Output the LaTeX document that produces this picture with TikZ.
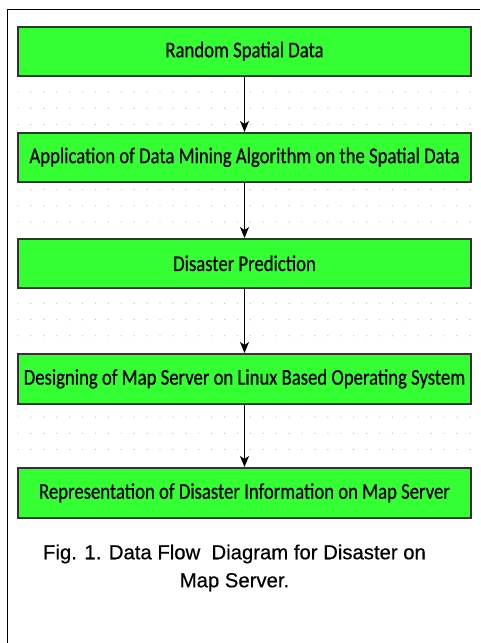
\documentclass[tikz,border=0pt]{standalone}
\usepackage{fontspec}
\setmainfont{Liberation Sans}
\newfontfamily\capfont{Liberation Sans}[FakeBold=0.5]
\newfontfamily\boxfont{Carlito}[FakeBold=0.7]
\usetikzlibrary{arrows.meta}
\definecolor{boxgreen}{HTML}{33FF33}
\definecolor{boxedge}{HTML}{333333}
\definecolor{dotgray}{HTML}{C8C8C8}
\tikzset{
  flowbox/.style={draw=boxedge, line width=1.5pt, fill=boxgreen, minimum width=453pt, minimum height=49pt, inner sep=0pt, anchor=north,
    font=\boxfont\fontsize{18.7pt}{20pt}\selectfont},
  flowarrow/.style={draw=black, line width=1.1pt, -{Stealth[length=11pt,width=9pt,inset=3pt]}},
  captext/.style={font=\capfont\fontsize{20.3pt}{28pt}\selectfont, align=center}
}
\newcommand{\vstretch}[1]{\scalebox{1}[1.2]{#1}}
\begin{document}
\begin{tikzpicture}[x=1pt,y=-1pt]
\useasboundingbox (0,0) rectangle (480,643);
\fill[white] (0,0) rectangle (480,643);
% frame
\draw[line width=1.5pt, black] (7.3,643) -- (7.3,9.6) -- (480,9.6);
% dot grid
\foreach \k in {0,1,2,6,7,8,13,14,15,20,21,22}{
  \foreach \j in {0,...,35}{
    \fill[dotgray] (18+12.91*\j, 92+16.25*\k) circle (0.7pt);
  }
}
% boxes
\node[flowbox] (b1) at (244.5,26) {\vstretch{Random Spatial Data}};
\node[flowbox] (b2) at (244.5,132) {\vstretch{Application of Data Mining Algorithm on the Spatial Data}};
\node[flowbox] (b3) at (244.5,238) {\vstretch{Disaster Prediction}};
\node[flowbox, minimum height=50pt] (b4) at (244.5,353) {\vstretch{Designing of Map Server on Linux Based Operating System}};
\node[flowbox, minimum height=50pt] (b5) at (244.5,467) {\vstretch{Representation of Disaster Information on Map Server}};
% arrows
\draw[flowarrow] (b1.south) -- (b2.north);
\draw[flowarrow] (b2.south) -- (b3.north);
\draw[flowarrow] (b3.south) -- (b4.north);
\draw[flowarrow] (b4.south) -- (b5.north);
% caption
\node[captext, anchor=north] (cap) at (234.5,541) {Fig. 1. Data Flow \ Diagram for Disaster on\\Map Server.};
\end{tikzpicture}
\end{document}
